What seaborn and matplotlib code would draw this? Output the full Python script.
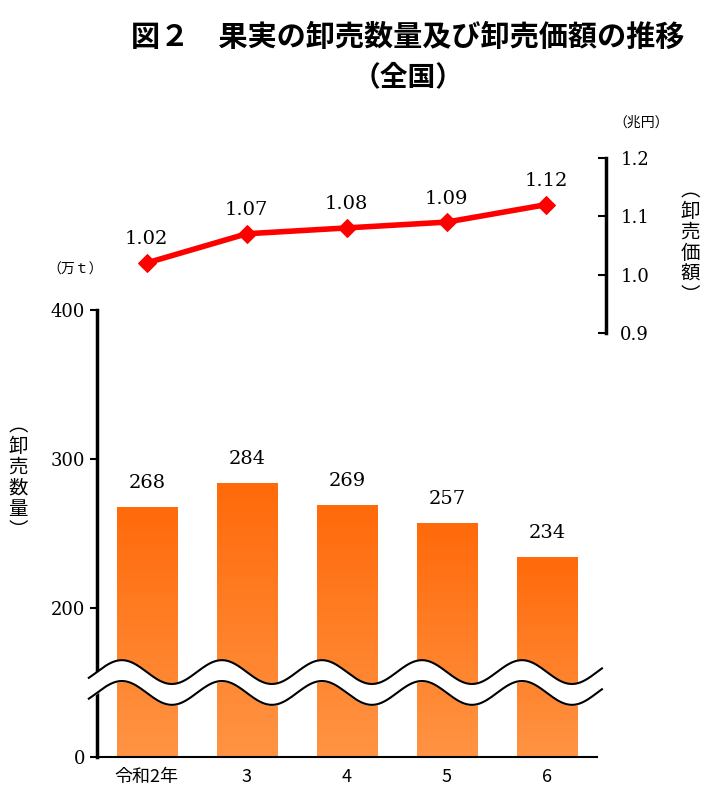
import numpy as np
import matplotlib
matplotlib.use("Agg")
import matplotlib.pyplot as plt
import seaborn as sns
import pandas as pd

years = ["令和2年", "3", "4", "5", "6"]
volume = [268, 284, 269, 257, 234]          # 万t
value = [1.02, 1.07, 1.08, 1.09, 1.12]      # 兆円
vol_ticks = [0, 200, 300, 400]
val_ticks = [0.9, 1.0, 1.1, 1.2]

JP = "Noto Sans CJK JP"
SERIF = "DejaVu Serif"
OFF = 100  # axis break: values above 100 shown shifted down

fig = plt.figure(figsize=(7.28, 8.10), dpi=100)
fig.text(0.56, 0.955, "図２　果実の卸売数量及び卸売価額の推移", ha="center", va="center",
         fontsize=21, fontweight="bold", family=JP)
fig.text(0.56, 0.905, "（全国）", ha="center", va="center", fontsize=20, fontweight="bold", family=JP)

# ---- bottom bars
ax = fig.add_axes([0.133, 0.0654, 0.687, 0.552])
df = pd.DataFrame({"year": years, "disp": [v - OFF for v in volume]})
sns.barplot(data=df, x="year", y="disp", color="#FF7A22", width=0.6, ax=ax, saturation=1)
for p in ax.patches:
    x0, w, h = p.get_x(), p.get_width(), p.get_height()
    grad = np.linspace(0, 1, 100).reshape(-1, 1)
    im = ax.imshow(grad, extent=[x0, x0 + w, 0, h], origin="lower", aspect="auto",
                   cmap=matplotlib.colors.LinearSegmentedColormap.from_list("g", ["#FF9444", "#FF6A0A"]),
                   zorder=p.get_zorder() + 0.1)
    im.set_clip_path(p)
for i, v in enumerate(volume):
    ax.text(i, v - OFF + 10, str(v), ha="center", va="bottom", fontsize=14, family=SERIF)
ax.set_xlim(-0.5, 4.5)
ax.set_ylim(0, 300)
ax.set_yticks([0, 100, 200, 300])
ax.set_yticklabels(["0", "200", "300", "400"], family=SERIF, fontsize=13)
ax.set_xticks(range(5))
ax.set_xticklabels(years, family=JP, fontsize=13)
ax.set_xlabel(""); ax.set_ylabel("")
for s in ["top", "right"]:
    ax.spines[s].set_visible(False)
ax.spines["left"].set_linewidth(2.5)
ax.spines["bottom"].set_linewidth(1.5)
ax.tick_params(axis="y", length=5, width=1.5)
ax.tick_params(axis="x", length=0, pad=8)
# wavy break
xs = np.linspace(-0.58, 4.55, 400)
wave = 8 * np.sin((xs + 0.5) * 2 * np.pi)
ax.fill_between(xs, 50 + wave - 7, 50 + wave + 7, color="white", zorder=5, clip_on=False)
ax.plot(xs, 50 + wave + 7, color="black", lw=1.5, zorder=6, clip_on=False)
ax.plot(xs, 50 + wave - 7, color="black", lw=1.5, zorder=6, clip_on=False)

fig.text(0.103, 0.667, "（万ｔ）", ha="center", va="center", fontsize=10, family=JP)
fig.text(0.025, 0.41, "︵\n卸\n売\n数\n量\n︶", ha="center", va="center", fontsize=14,
         family=JP, linespacing=1.0)

# ---- top line
ax2 = fig.add_axes([0.133, 0.589, 0.70, 0.216])
dl = pd.DataFrame({"x": range(5), "v": value})
sns.lineplot(data=dl, x="x", y="v", color="#FF0000", lw=4, marker="D", markersize=9,
             markeredgecolor="#FF0000", ax=ax2)
for i, v in enumerate(value):
    ax2.text(i, v + 0.025, f"{v:.2f}", ha="center", va="bottom", fontsize=14, family=SERIF)
ax2.set_xlim(-0.5, 4.6)
ax2.set_ylim(0.9, 1.2)
ax2.yaxis.tick_right()
ax2.set_yticks(val_ticks)
ax2.set_yticklabels([f"{t:.1f}" for t in val_ticks], family=SERIF, fontsize=13)
ax2.tick_params(axis="y", direction="in", length=6, width=1.5, pad=10)
ax2.set_xticks([]); ax2.set_xlabel(""); ax2.set_ylabel("")
for s in ["top", "left", "bottom"]:
    ax2.spines[s].set_visible(False)
ax2.spines["right"].set_linewidth(2.5)
ax2.patch.set_alpha(0)
fig.text(0.88, 0.848, "（兆円）", ha="center", va="center", fontsize=10, family=JP)
fig.text(0.948, 0.70, "︵\n卸\n売\n価\n額\n︶", ha="center", va="center", fontsize=14,
         family=JP, linespacing=1.0)

fig.savefig("out.png", dpi=100)
